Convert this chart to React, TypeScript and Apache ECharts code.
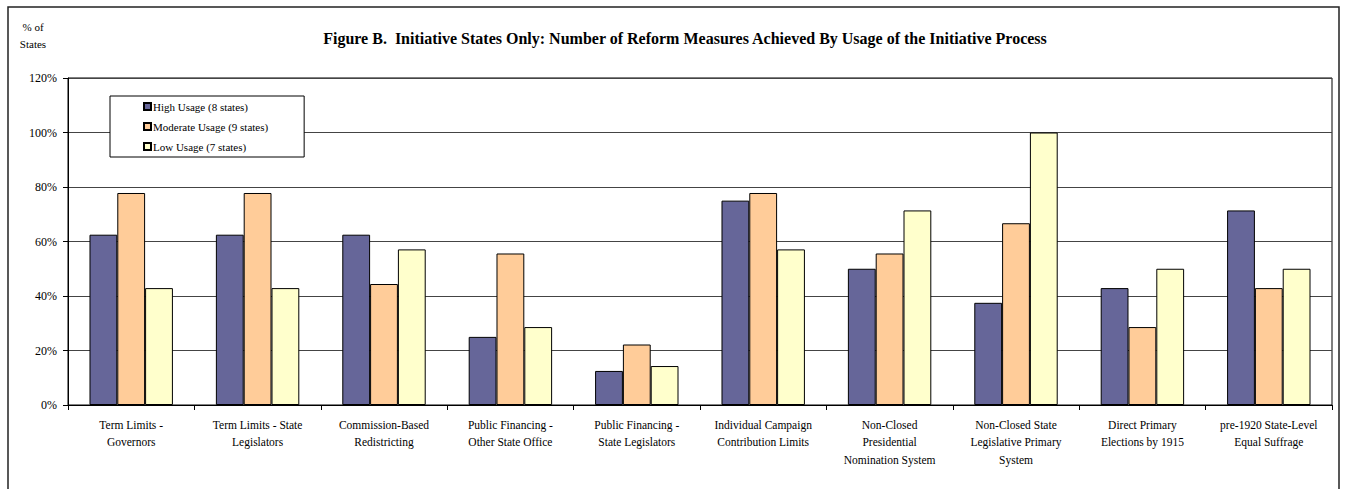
import React, { useEffect, useRef } from "react";
import * as echarts from "echarts";

const categories = [
  "Term Limits -\nGovernors",
  "Term Limits - State\nLegislators",
  "Commission-Based\nRedistricting",
  "Public Financing -\nOther State Office",
  "Public Financing -\nState Legislators",
  "Individual Campaign\nContribution Limits",
  "Non-Closed\nPresidential\nNomination System",
  "Non-Closed State\nLegislative Primary\nSystem",
  "Direct Primary\nElections by 1915",
  "pre-1920 State-Level\nEqual Suffrage",
];

const seriesNames = ["High Usage (8 states)", "Moderate Usage (9 states)", "Low Usage (7 states)"];
const highUsage = [62.5, 62.5, 62.5, 25, 12.5, 75, 50, 37.5, 42.9, 71.4];
const moderateUsage = [77.8, 77.8, 44.4, 55.6, 22.2, 77.8, 55.6, 66.7, 28.6, 42.9];
const lowUsage = [42.9, 42.9, 57.1, 28.6, 14.3, 57.1, 71.4, 100, 50, 50];
const colors = ["#666699", "#FFCC99", "#FFFFCC"];

const titleText =
  "Figure B.  Initiative States Only: Number of Reform Measures Achieved By Usage of the Initiative Process";

const FONT = "Liberation Serif";

export default function App() {
  const ref = useRef<HTMLDivElement>(null);
  useEffect(() => {
    document.body.style.margin = "0";
    const chart = echarts.init(ref.current!, null, { renderer: "svg" });
    const values = [highUsage, moderateUsage, lowUsage];
    chart.setOption({
      animation: false,
      backgroundColor: "#fff",
      textStyle: { fontFamily: FONT },
      graphic: [
        {
          type: "rect",
          shape: { x: 8, y: 7, width: 1331, height: 520 },
          style: { fill: "none", stroke: "#222", lineWidth: 1.5 },
          silent: true,
        },
        {
          type: "text",
          x: 685,
          y: 38,
          style: {
            text: titleText,
            fontFamily: FONT,
            fontSize: 16,
            fontWeight: "bold",
            fill: "#000",
            align: "center",
            verticalAlign: "middle",
          },
        },
        {
          type: "text",
          x: 33,
          y: 27,
          style: { text: "% of", fontFamily: FONT, fontSize: 11, fill: "#000", align: "center", verticalAlign: "middle" },
        },
        {
          type: "text",
          x: 33,
          y: 44,
          style: { text: "States", fontFamily: FONT, fontSize: 11, fill: "#000", align: "center", verticalAlign: "middle" },
        },
      ],
      legend: {
        orient: "vertical",
        left: 110,
        top: 96,
        padding: [5, 36, 5, 33],
        itemGap: 9,
        itemWidth: 7,
        itemHeight: 7,
        icon: "rect",
        borderColor: "#000",
        borderWidth: 1,
        backgroundColor: "#fff",
        textStyle: { fontFamily: FONT, fontSize: 11, color: "#000", padding: [0, 0, 0, -3] },
        data: seriesNames,
      },
      grid: {
        left: 68,
        right: 13,
        top: 78,
        bottom: 84,
        show: true,
        borderColor: "#000",
        borderWidth: 1,
        containLabel: false,
      },
      xAxis: {
        type: "category",
        data: categories,
        axisLine: { show: true, lineStyle: { color: "#000", width: 1 } },
        axisTick: { show: true, length: 5, alignWithLabel: false, lineStyle: { color: "#000" } },
        axisLabel: {
          interval: 0,
          margin: 11,
          fontFamily: FONT,
          fontSize: 11.5,
          lineHeight: 17.5,
          color: "#000",
        },
      },
      yAxis: {
        type: "value",
        min: 0,
        max: 120,
        interval: 20,
        axisLine: { show: true, lineStyle: { color: "#000", width: 1 } },
        axisTick: { show: true, length: 5, lineStyle: { color: "#000" } },
        axisLabel: {
          formatter: "{value}%",
          margin: 11,
          fontFamily: FONT,
          fontSize: 12,
          color: "#000",
        },
        splitLine: { show: true, lineStyle: { color: "#444", width: 1 } },
      },
      series: seriesNames.map((name, i) => ({
        name,
        type: "bar",
        data: values[i],
        barGap: "0%",
        barCategoryGap: "34%",
        itemStyle: { color: colors[i], borderColor: "#000", borderWidth: 1 },
      })),
    });
    return () => chart.dispose();
  }, []);
  return <div ref={ref} style={{ width: 1345, height: 489 }} />;
}
